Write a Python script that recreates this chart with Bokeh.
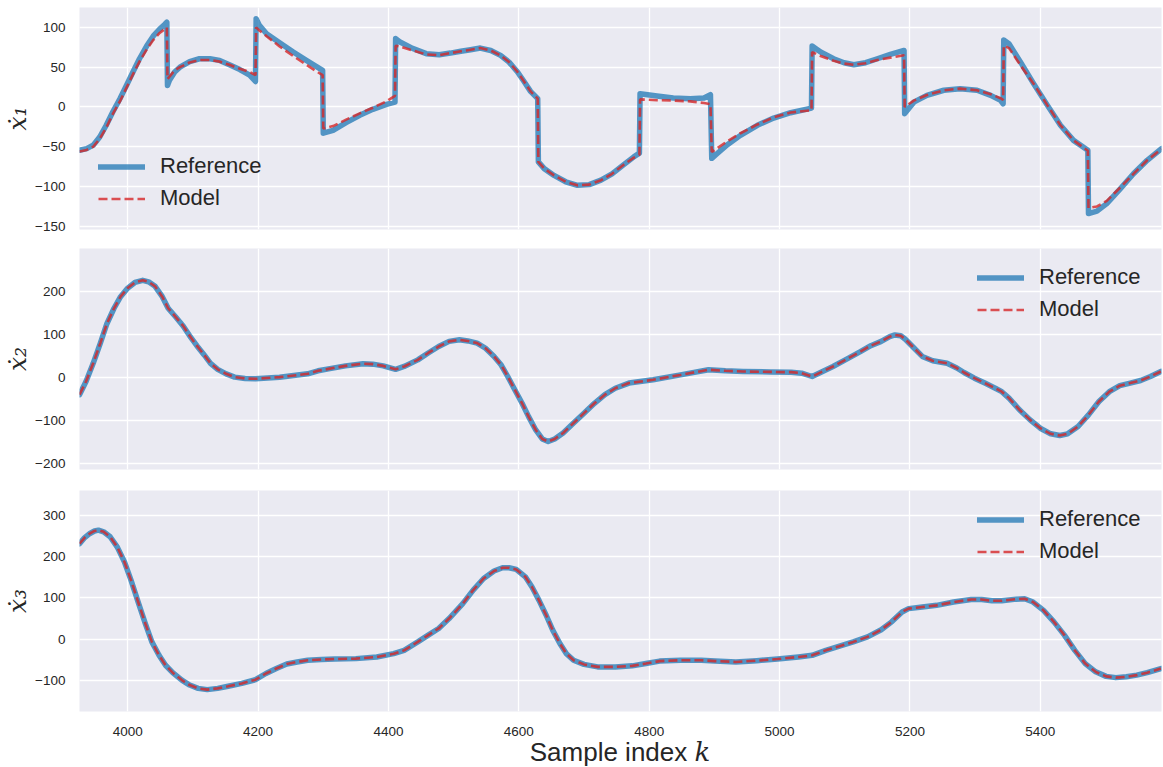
from bokeh.plotting import figure
from bokeh.layouts import column
from bokeh.models import Range1d, FixedTicker, Legend, LegendItem, Div
from bokeh.embed import file_html
from bokeh.resources import INLINE

# ---- data -----------------------------------------------------------------
# state derivative 1 (piecewise, with switching jumps)
k1 = [3926, 3937, 3947, 3957, 3967, 3977, 3988, 3998, 4008, 4018, 4029, 4039,
      4049, 4057, 4060, 4061, 4064, 4072, 4080, 4095, 4110, 4126, 4141, 4156,
      4172, 4187, 4196, 4197, 4202, 4213, 4233, 4254, 4274, 4289, 4299, 4300,
      4315, 4335, 4356, 4376, 4397, 4410, 4411, 4417, 4437, 4458, 4478, 4495,
      4511, 4526, 4541, 4557, 4572, 4585, 4598, 4608, 4618, 4629, 4630, 4639,
      4654, 4672, 4690, 4708, 4726, 4743, 4761, 4776, 4785, 4786, 4812, 4837,
      4863, 4884, 4894, 4896, 4904, 4920, 4940, 4966, 4991, 5017, 5049, 5050,
      5063, 5083, 5099, 5114, 5132, 5150, 5170, 5191, 5192, 5206, 5226, 5252,
      5277, 5303, 5324, 5339, 5343, 5344, 5352, 5370, 5390, 5411, 5431, 5451,
      5473, 5474, 5487, 5502, 5523, 5543, 5564, 5586]
x1_ref = [-54.5, -52.4, -48, -37.8, -23, -6.4, 10.4, 27, 44, 60.6, 76.5, 89,
          98, 104, 106.6, 27, 33.4, 44, 50, 57, 60.6, 60.6, 58.5, 53,
          47, 40, 32, 111, 102.5, 92, 80.7, 69, 58.5, 51, 46, -33,
          -29.4, -19.7, -10.5, -3, 3.3, 6, 86, 82, 73.6, 67, 65.7, 67.7,
          70, 72, 74, 71, 64.8, 56.4, 44, 32, 19.6, 10.4, -69, -77.5,
          -86, -94, -98.5, -97.6, -92, -84, -72.5, -63, -58, 16.7, 13.7, 11.2,
          10.4, 11.2, 15.4, -64.6, -58.7, -47.4, -35.7, -23, -13.9, -7.2, -1.4, 76.5,
          69, 60.6, 55.6, 53, 55.6, 60.6, 66, 71, -8.4, 6, 14.6, 21,
          23, 21, 14.6, 8.3, 4, 84, 79.5, 56, 29, 2, -23, -42,
          -54.5, -134, -131, -121.5, -102.6, -84, -67, -52.4]
x1_mod = [-56, -54, -50, -40, -26, -9, 7, 24, 41, 57, 72, 84,
          93, 98, 100, 35, 38, 46, 50, 56, 59, 59, 57, 53,
          48, 44, 40, 100, 96, 89, 76, 64, 53, 45, 40, -27,
          -24, -16, -8, -1, 7, 14, 77, 76, 71, 66, 65, 67.7,
          70, 72, 74, 71, 64.8, 56.4, 44, 32, 19.6, 10.4, -69, -77.5,
          -86, -94, -98.5, -97.6, -92, -84, -72.5, -64, -60, 9.5, 8.5, 8,
          7, 5, 3.5, -56.6, -52, -43, -33, -22, -13, -7, -4, 69,
          64, 58, 54.5, 53, 55, 59, 62, 65, 0, 8, 15, 21,
          23, 21, 16, 11, 9, 77, 74, 52, 29, 2, -23, -42,
          -55, -127, -125, -118, -101, -84, -67, -53]

# state derivative 2
k2 = [3926, 3936, 3947, 3958, 3968, 3979, 3989, 4000, 4011, 4023, 4032, 4042,
      4053, 4062, 4074, 4085, 4095, 4106, 4117, 4127, 4138, 4151, 4164, 4180,
      4196, 4233, 4276, 4292, 4308, 4334, 4361, 4376, 4392, 4411, 4424, 4445,
      4461, 4477, 4493, 4509, 4522, 4536, 4549, 4562, 4573, 4583, 4594, 4605,
      4615, 4626, 4636, 4645, 4655, 4668, 4684, 4700, 4716, 4732, 4748, 4769,
      4806, 4848, 4891, 4917, 4944, 4986, 5018, 5034, 5050, 5066, 5082, 5103,
      5124, 5140, 5156, 5169, 5177, 5186, 5193, 5204, 5219, 5235, 5257, 5272,
      5283, 5299, 5315, 5331, 5341, 5352, 5368, 5384, 5400, 5416, 5430, 5442,
      5458, 5474, 5490, 5506, 5522, 5538, 5554, 5569, 5585]
x2_ref = [-40, -9.3, 33, 80, 125, 161, 188, 208, 221, 226, 222.5, 212,
          188, 161, 140, 120, 97, 74, 53, 33, 19, 8.5, 0.8, -2.3,
          -3.1, 0.8, 8.5, 15.5, 20, 27, 32, 31, 27, 19, 25.6, 41,
          57, 72, 84, 87.6, 85, 80, 68, 49, 29, 2.3, -29, -60,
          -91, -122, -143, -149, -143, -129, -106, -83, -60, -40, -25, -13,
          -5.4, 6, 18, 15.5, 14, 13, 12.4, 10, 2.3, 14, 25.6, 42.6,
          60, 74, 84, 95, 99, 97, 89, 72, 49, 39, 33, 22,
          11.6, -1.6, -13, -25, -33, -48, -75, -98, -118, -131, -135, -131,
          -114, -87, -56, -33, -19, -13, -7, 2.3, 14]
x2_mod = list(x2_ref)

# state derivative 3
k3 = [3926, 3934, 3942, 3949, 3955, 3963, 3973, 3984, 3995, 4005, 4016, 4027,
      4037, 4048, 4058, 4069, 4083, 4095, 4108, 4122, 4138, 4154, 4175, 4196,
      4212, 4228, 4244, 4260, 4276, 4297, 4318, 4350, 4382, 4408, 4424, 4445,
      4461, 4477, 4493, 4514, 4530, 4546, 4562, 4575, 4585, 4596, 4610, 4620,
      4631, 4642, 4652, 4663, 4673, 4684, 4700, 4721, 4748, 4774, 4795, 4816,
      4848, 4880, 4901, 4933, 4965, 4997, 5029, 5050, 5071, 5092, 5113, 5135,
      5156, 5172, 5188, 5198, 5219, 5241, 5267, 5294, 5310, 5326, 5341, 5363,
      5376, 5389, 5405, 5421, 5437, 5453, 5469, 5485, 5501, 5516, 5532, 5548,
      5564, 5585]
x3_ref = [231, 246, 256, 262, 264, 260, 248, 223, 187, 143, 90, 38,
          -6.5, -39, -63, -81, -99, -111, -119, -122, -119, -114, -107, -98,
          -83, -71, -60, -55, -51, -49, -48, -47, -43, -35, -27, -6.5,
          10, 26, 50, 86, 119, 147, 165, 173, 173, 169, 151, 127,
          94, 58, 22, -10.5, -35, -51, -61, -67, -67, -64.5, -59, -53,
          -51, -51, -53, -55, -52, -48, -43, -39, -27, -17, -6.5, 5.6,
          23, 42, 66, 74, 78, 82, 90, 96, 96, 93, 93, 97,
          98, 90, 70, 42, 10, -27, -59, -79, -90, -93, -91, -87,
          -81, -71]
x3_mod = list(x3_ref)

k_ticks = [4000, 4200, 4400, 4600, 4800, 5000, 5200, 5400]
y1_ticks = [-150, -100, -50, 0, 50, 100]
y2_ticks = [-200, -100, 0, 100, 200]
y3_ticks = [-100, 0, 100, 200, 300]

# ---- styling ----------------------------------------------------------------
BG = "#EAEAF2"
TXT = "#262626"
BLUE = "#1f77b4"
RED = "#d62728"
K_RANGE = (3926, 5586)


def minus_labels(ticks):
    return {t: (("\u2212" + str(abs(t))) if t < 0 else str(t)) for t in ticks}


def panel(kr, yr, km, ym, yticks, yrange, ylabel, height, top, bottom,
          legend_loc, show_x):
    p = figure(width=1163, height=height, output_backend="svg",
               toolbar_location=None,
               x_range=Range1d(*K_RANGE), y_range=Range1d(*yrange),
               min_border_left=79, min_border_right=2,
               min_border_top=top, min_border_bottom=bottom,
               background_fill_color=BG, border_fill_color="white",
               outline_line_color=None)
    r_ref = p.line(kr, yr, line_color=BLUE, line_alpha=0.75, line_width=5.5,
                   line_join="round", line_cap="round")
    r_mod = p.line(km, ym, line_color=RED, line_alpha=0.8, line_width=2.6,
                   line_dash="9 4")

    p.xaxis.ticker = FixedTicker(ticks=k_ticks)
    p.yaxis.ticker = FixedTicker(ticks=yticks)
    p.yaxis.major_label_overrides = minus_labels(yticks)
    for ax in (p.xaxis[0], p.yaxis[0]):
        ax.axis_line_color = None
        ax.major_tick_line_color = None
        ax.minor_tick_line_color = None
        ax.major_label_text_font = "Liberation Sans"
        ax.major_label_text_font_size = "13.5px"
        ax.major_label_text_color = TXT
    p.yaxis.major_label_standoff = 8
    p.xaxis.major_label_standoff = 9
    p.yaxis.axis_label = ylabel
    p.yaxis.axis_label_text_font = "DejaVu Serif"
    p.yaxis.axis_label_text_font_style = "italic"
    p.yaxis.axis_label_text_font_size = "25px"
    p.yaxis.axis_label_text_color = TXT
    p.yaxis.axis_label_standoff = 0
    p.xaxis.visible = show_x

    p.xgrid.grid_line_color = "white"
    p.ygrid.grid_line_color = "white"
    p.xgrid.grid_line_width = 1.3
    p.ygrid.grid_line_width = 1.3

    legend = Legend(items=[LegendItem(label="Reference", renderers=[r_ref]),
                           LegendItem(label="Model", renderers=[r_mod])],
                    location=legend_loc,
                    background_fill_alpha=0, border_line_color=None,
                    label_text_font="Liberation Sans",
                    label_text_font_size="22px", label_text_color=TXT,
                    glyph_width=47, glyph_height=25, label_height=25,
                    spacing=6, label_standoff=15, padding=10, margin=0)
    p.add_layout(legend)
    return p


p1 = panel(k1, x1_ref, k1, x1_mod, y1_ticks, (-154, 125),
           "\u1E8B\u2081", 238, 7, 9, (19, 18), False)
p2 = panel(k2, x2_ref, k2, x2_mod, y2_ticks, (-214, 300),
           "\u1E8B\u2082", 242, 10, 11, (898, 147), False)
p3 = panel(k3, x3_ref, k3, x3_mod, y3_ticks, (-175, 360),
           "\u1E8B\u2083", 258, 10, 27, (898, 147), True)

# x-axis title: upright words, italic index symbol
xtitle = Div(
    text=('<div style="width:1082px;margin-left:79px;text-align:center;'
          'font-family:\'Liberation Sans\';font-size:26px;line-height:29px;'
          'color:#262626;">Sample index '
          '<span style="font-family:\'DejaVu Serif\';font-style:italic;">k</span>'
          '</div>'),
    width=1163, height=29, margin=(0, 0, 0, 0))

layout = column(p1, p2, p3, xtitle, spacing=0)
open("out.html", "w").write(file_html(layout, INLINE))
